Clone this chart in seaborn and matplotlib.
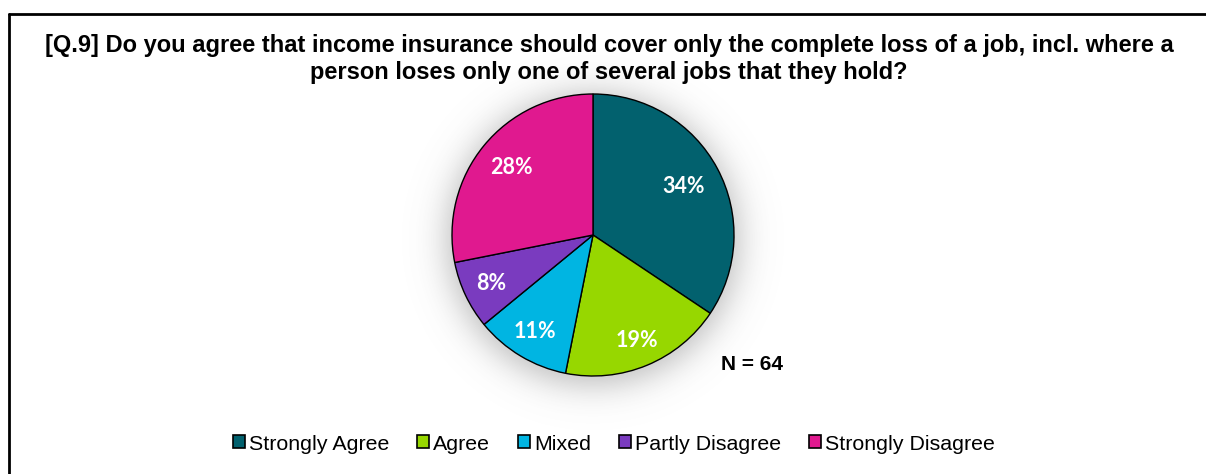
import numpy as np
import matplotlib
matplotlib.use("Agg")
import matplotlib.pyplot as plt
from matplotlib.patches import Patch
from matplotlib.lines import Line2D
import seaborn as sns

# Survey responses (counts of respondents)
categories = ["Strongly Agree", "Agree", "Mixed", "Partly Disagree", "Strongly Disagree"]
counts = [22, 12, 7, 5, 18]
colors = ["#02616E", "#97D700", "#00B5E2", "#7A3BBF", "#E0198F"]
title = ("[Q.9] Do you agree that income insurance should cover only the complete loss of a job, incl. where a\n"
         "person loses only one of several jobs that they hold?")

sns.set_theme(style="white")
plt.rcParams["font.family"] = ["Liberation Sans", "DejaVu Sans"]
plt.rcParams["text.color"] = "black"

W, H = 1206, 474
fig = plt.figure(figsize=(W / 100, H / 100), dpi=100)
fig.patch.set_facecolor("white")

# pie placement in pixels
cx, cy, R = 593, 235, 141
half = 210
ax = fig.add_axes([(cx - half) / W, (H - cy - half) / H, 2 * half / W, 2 * half / H])
lim = half / R
ax.axis("off")

# soft shadow behind the pie
n = 500
g = np.linspace(-lim, lim, n)
X, Y = np.meshgrid(g, g)
d = np.hypot(X, Y + 0.03)
soft = 1.0 / (1.0 + np.exp((d - 1.04) / 0.07))
rgba = np.zeros((n, n, 4))
rgba[..., :3] = 0.35
rgba[..., 3] = 0.38 * soft
ax.imshow(rgba, extent=(-lim, lim, -lim, lim), origin="lower", zorder=0, interpolation="bilinear")

wedges, texts, autotexts = ax.pie(
    counts, colors=colors, startangle=90, counterclock=False, radius=1,
    autopct="%.0f%%", pctdistance=0.78,
    wedgeprops=dict(edgecolor="black", linewidth=1.0),
    textprops=dict(color="white", fontsize=15.5, fontweight="bold", family=["Lato", "DejaVu Sans"]),
)
ax.set_xlim(-lim, lim)
ax.set_ylim(-lim, lim)
ax.set_aspect("equal")
for w in wedges:
    w.set_zorder(2)
label_radius = [0.73, 0.81, 0.80, 0.80, 0.75]
for t, w, r in zip(autotexts, wedges, label_radius):
    ang = np.deg2rad((w.theta1 + w.theta2) / 2)
    t.set_position((r * np.cos(ang), r * np.sin(ang)))
    t.set_zorder(3)

fig.text(609 / W, 1 - 59 / H, title, ha="center", va="center", fontsize=17,
         fontweight="bold", linespacing=1.25, multialignment="center")

fig.text(752 / W, 1 - 365 / H, f"N = {sum(counts)}", ha="center", va="center",
         fontsize=15, fontweight="bold")

handles = [Patch(facecolor=c, edgecolor="black", linewidth=1.2) for c in colors]
fig.legend(handles, categories, loc="center", bbox_to_anchor=(614 / W, 1 - 444 / H), ncol=5,
           frameon=False, fontsize=15.4, handlelength=0.55, handleheight=0.55,
           handletextpad=0.2, columnspacing=1.3)

# chart frame (left and top edges visible)
fig.add_artist(Line2D([9 / W, 9 / W], [0, 1 - 14 / H], color="black", linewidth=2, transform=fig.transFigure))
fig.add_artist(Line2D([9 / W, 1], [1 - 14 / H, 1 - 14 / H], color="black", linewidth=2, transform=fig.transFigure))

fig.savefig("out.png", dpi=100)
